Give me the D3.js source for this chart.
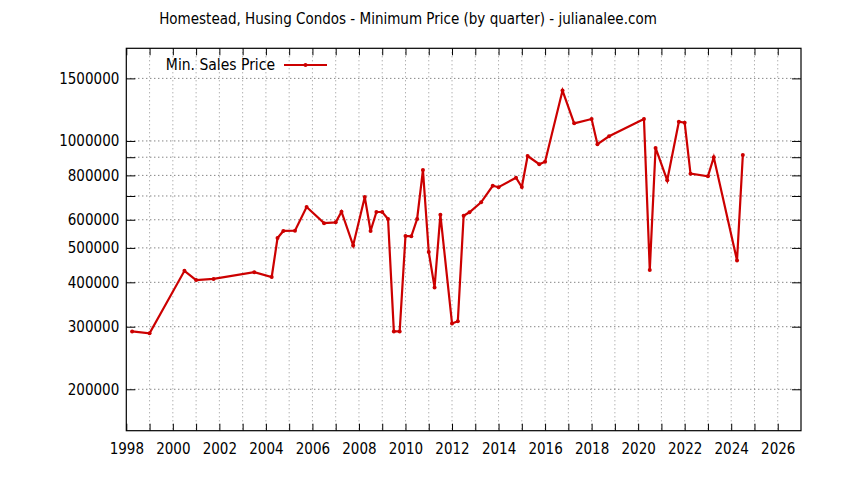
<!DOCTYPE html>
<html><head><meta charset="utf-8">
<script src="https://cdn.jsdelivr.net/npm/d3@7"></script>
<style>
html,body{margin:0;padding:0;background:#fff;}
text{font-family:"DejaVu Sans Condensed","DejaVu Sans",sans-serif;fill:#000;}
</style></head>
<body><svg id="c" width="844" height="480"></svg>
<script>
const title = "Homestead, Husing Condos - Minimum Price (by quarter) - julianalee.com";
const seriesName = "Min. Sales Price";
const quarters = [1998.25,1999.0,2000.5,2001.0,2001.75,2003.5,2004.25,2004.5,2004.75,2005.25,2005.75,2006.5,2007.0,2007.25,2007.75,2008.25,2008.5,2008.75,2009.0,2009.25,2009.5,2009.75,2010.0,2010.25,2010.5,2010.75,2011.0,2011.25,2011.5,2012.0,2012.25,2012.5,2012.75,2013.25,2013.75,2014.0,2014.75,2015.0,2015.25,2015.75,2016.0,2016.75,2017.25,2018.0,2018.25,2018.75,2020.25,2020.5,2020.75,2021.25,2021.75,2022.0,2022.25,2023.0,2023.25,2024.25,2024.5];
const minPrice = [291000,287500,431000,406000,409000,427000,414000,533000,558000,559000,652000,587000,590000,632000,508000,695000,558000,631000,631000,603000,291000,291000,540000,539000,603000,828000,487000,387000,620000,306500,311000,616000,630000,672000,748000,741000,788000,742000,907000,860000,874000,1386000,1121000,1153000,979000,1031000,1153000,433000,956000,775000,1133000,1126000,809000,795000,900000,461000,913000];
const yTickValues = [200000,300000,400000,500000,600000,700000,800000,900000,1000000,1500000];
const yTickLabels = ["200000","300000","400000","500000","600000","","800000","","1000000","1500000"];
const xTickValues = d3.range(1998, 2027, 1);
const xLabelValues = d3.range(1998, 2027, 2);

const svg = d3.select("#c");
const L = 126.3, R = 801, T = 48.3, B = 430.7;
const x = d3.scaleLinear().domain([1998, 2027]).range([L, R]);
const y = d3.scaleLog().domain([152900, 1823000]).range([B, T]);

// grid
const g = svg.append("g");
g.selectAll("line.vg").data(xTickValues.slice(1)).enter().append("line")
  .attr("x1", d => x(d)).attr("x2", d => x(d)).attr("y1", T).attr("y2", B)
  .attr("stroke", "#909090").attr("stroke-width", 1).attr("stroke-dasharray", "1,3");
g.selectAll("line.hg").data(yTickValues).enter().append("line")
  .attr("x1", L).attr("x2", R).attr("y1", d => y(d)).attr("y2", d => y(d))
  .attr("stroke", "#505050").attr("stroke-width", 1).attr("stroke-dasharray", "1,3");

// axes
const xAxisB = d3.axisBottom(x).tickValues(xTickValues).tickSizeInner(-7).tickSizeOuter(0)
  .tickFormat(d => xLabelValues.includes(d) ? String(d) : "").tickPadding(13);
svg.append("g").attr("transform", `translate(0,${B})`).call(xAxisB);
const xAxisT = d3.axisTop(x).tickValues(xTickValues).tickSizeInner(-7).tickSizeOuter(0).tickFormat("");
svg.append("g").attr("transform", `translate(0,${T})`).call(xAxisT);
const yAxisL = d3.axisLeft(y).tickValues(yTickValues).tickSizeInner(-9).tickSizeOuter(0)
  .tickFormat((d, i) => yTickLabels[i]).tickPadding(7);
svg.append("g").attr("transform", `translate(${L},0)`).call(yAxisL);
const yAxisR = d3.axisRight(y).tickValues(yTickValues).tickSizeInner(-9).tickSizeOuter(0).tickFormat("");
svg.append("g").attr("transform", `translate(${R},0)`).call(yAxisR);
svg.selectAll(".domain").remove();
svg.selectAll(".tick line").attr("stroke", "#000").attr("stroke-width", 1);
svg.selectAll(".tick text").attr("font-size", 15).attr("font-family", '"DejaVu Sans Condensed","DejaVu Sans",sans-serif').attr("fill", "#000");
svg.append("rect").attr("x", L).attr("y", T).attr("width", R - L).attr("height", B - T)
  .attr("fill", "none").attr("stroke", "#000").attr("stroke-width", 1.2);

// series
const data = quarters.map((q, i) => ({q, v: minPrice[i]}));
const line = d3.line().x(d => x(d.q)).y(d => y(d.v));
svg.append("path").datum(data).attr("d", line).attr("fill", "none")
  .attr("stroke", "#cc0000").attr("stroke-width", 2.2).attr("stroke-linejoin", "miter");
svg.selectAll("circle.pt").data(data).enter().append("circle")
  .attr("cx", d => x(d.q)).attr("cy", d => y(d.v)).attr("r", 2).attr("fill", "#cc0000");

// legend
svg.append("text").attr("x", 275).attr("y", 70).attr("text-anchor", "end").attr("font-size", 15.5).text(seriesName);
svg.append("line").attr("x1", 284).attr("x2", 327).attr("y1", 65).attr("y2", 65)
  .attr("stroke", "#cc0000").attr("stroke-width", 2.2);
svg.append("circle").attr("cx", 305.5).attr("cy", 65).attr("r", 2).attr("fill", "#cc0000");

// title
svg.append("text").attr("x", 408).attr("y", 24).attr("text-anchor", "middle").attr("font-size", 15).text(title);
</script></body></html>
